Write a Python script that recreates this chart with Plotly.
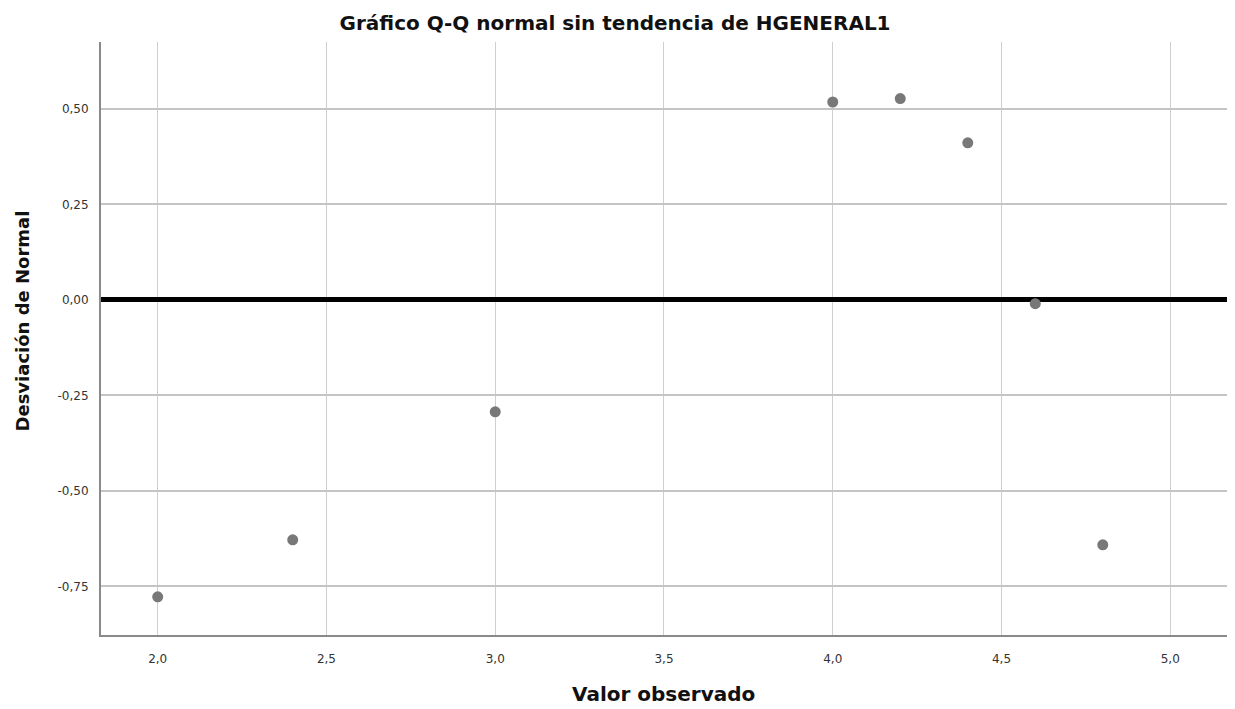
import plotly.graph_objects as go

# Data
valor_observado = [2.0, 2.4, 3.0, 4.0, 4.2, 4.4, 4.6, 4.8]
desviacion_normal = [-0.777, -0.628, -0.293, 0.518, 0.527, 0.411, -0.010, -0.641]

x_tick_values = [2.0, 2.5, 3.0, 3.5, 4.0, 4.5, 5.0]
x_tick_labels = ["2,0", "2,5", "3,0", "3,5", "4,0", "4,5", "5,0"]
y_tick_values = [-0.75, -0.50, -0.25, 0.00, 0.25, 0.50]
y_tick_labels = ["-0,75", "-0,50", "-0,25", "0,00", "0,25", "0,50"]

title_text = "Gráfico Q-Q normal sin tendencia de HGENERAL1"
x_title = "Valor observado"
y_title = "Desviación de Normal"

fig = go.Figure()
fig.add_trace(go.Scatter(
    x=valor_observado,
    y=desviacion_normal,
    mode="markers",
    marker=dict(size=11, color="#787878"),
    showlegend=False,
    hoverinfo="x+y",
))

font_family = "DejaVu Sans, Verdana, sans-serif"

# page body has an 8px margin, so figure is 8px smaller and margins shifted
W, H = 1227, 701
fig.update_layout(
    width=W,
    height=H,
    margin=dict(l=93, r=7, t=34, b=74),
    paper_bgcolor="white",
    plot_bgcolor="white",
    font=dict(family=font_family, color="#222222"),
    title=dict(
        text="<b>" + title_text + "</b>",
        x=(887 + 335) / 2 / 1235, xref="container", xanchor="center",
        y=1 - 14.5 / H, yref="container", yanchor="middle",
        font=dict(size=20, color="#111111", family=font_family),
    ),
    showlegend=False,
)

fig.update_xaxes(
    range=[1.832, 5.171],
    tickmode="array",
    tickvals=x_tick_values,
    ticktext=x_tick_labels,
    tickfont=dict(size=12, color="#333333"),
    showgrid=True,
    gridcolor="#cfcfcf",
    gridwidth=1,
    showline=True,
    linecolor="#8a8a8a",
    linewidth=2,
    zeroline=False,
    ticks="",
    ticklabelstandoff=12,
)

fig.update_yaxes(
    range=[-0.877, 0.675],
    tickmode="array",
    tickvals=y_tick_values,
    ticktext=y_tick_labels,
    tickfont=dict(size=12, color="#333333"),
    showgrid=True,
    gridcolor="#c4c4c4",
    gridwidth=2,
    showline=True,
    linecolor="#8a8a8a",
    linewidth=2,
    zeroline=True,
    zerolinecolor="#000000",
    zerolinewidth=5,
    ticks="",
    ticklabelstandoff=8,
)

plot_w = W - 93 - 7
plot_h = H - 34 - 74
fig.add_annotation(
    text="<b>" + x_title + "</b>", xref="paper", yref="paper",
    x=(663 - 101) / plot_w, y=(635 - 694) / plot_h,
    xanchor="center", yanchor="middle",
    showarrow=False,
    font=dict(size=20, color="#111111", family=font_family),
)
fig.add_annotation(
    text="<b>" + y_title + "</b>", xref="paper", yref="paper",
    x=(22 - 101) / plot_w, y=(635 - 321.5) / plot_h,
    xanchor="center", yanchor="middle",
    textangle=-90, showarrow=False,
    font=dict(size=18, color="#111111", family=font_family),
)

fig.write_html("out.html")
